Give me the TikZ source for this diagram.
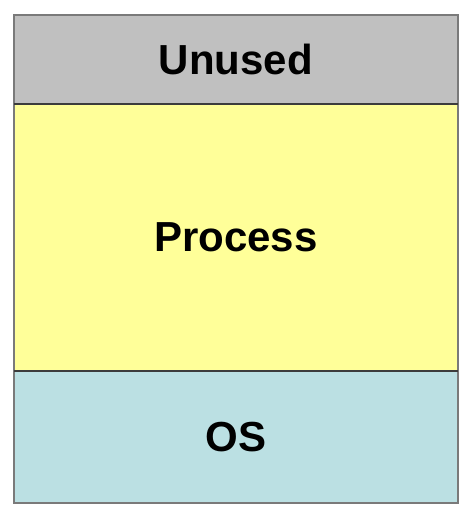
\documentclass[tikz,border=0pt]{standalone}
\usepackage{fontspec}
\setmainfont{Liberation Sans}
\usepackage{xcolor}
\usetikzlibrary{positioning}
\definecolor{unusedgray}{HTML}{C0C0C0}
\definecolor{procyellow}{HTML}{FFFF99}
\definecolor{oscyan}{HTML}{BBE0E3}
\definecolor{edgegray}{HTML}{7A7A7A}
\definecolor{sepgray}{HTML}{3C3C3C}
\tikzset{
  region/.style={draw=edgegray, line width=2.5pt, rectangle, inner sep=0pt, outer sep=0pt,
    minimum width=444pt, font=\fontsize{42}{50}\selectfont\bfseries},
  sepline/.style={draw=sepgray, line width=2pt}
}

\begin{document}
\begin{tikzpicture}[x=1pt, y=-1pt]
      \useasboundingbox (0,0) rectangle (466,514);

      \node[region, fill=unusedgray, minimum height=89pt] at (236,59.5) (U) {Unused};
      \node[region, fill=procyellow, minimum height=267pt] at (236,237.5) (P) {Process};
      \node[region, fill=oscyan, minimum height=132pt] at (236,437) (O) {OS};

      \draw[sepline] (U.south west) -- (U.south east);
      \draw[sepline] (P.south west) -- (P.south east);
    \end{tikzpicture}
\end{document}
